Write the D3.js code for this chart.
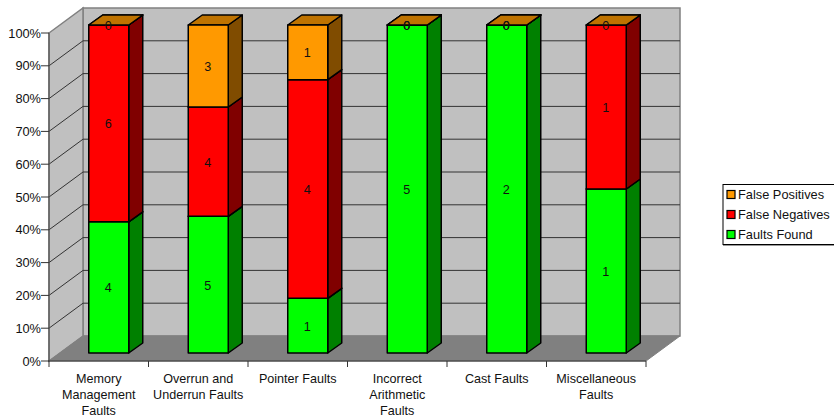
<!DOCTYPE html>
<html>
<head>
<meta charset="utf-8">
<script src="https://cdn.jsdelivr.net/npm/d3@7/dist/d3.min.js"></script>
<style>
html,body{margin:0;padding:0;background:#fff}
svg{display:block}
text{font-family:"Liberation Sans",Arial,sans-serif;fill:#111}
</style>
</head>
<body>
<svg id="chart" width="834" height="418"></svg>
<script>
const categories = [
  ["Memory","Management","Faults"],
  ["Overrun and","Underrun Faults"],
  ["Pointer Faults"],
  ["Incorrect","Arithmetic","Faults"],
  ["Cast Faults"],
  ["Miscellaneous","Faults"]
];
const faultsFound    = [4,5,1,5,2,1];
const falseNegatives = [6,4,4,0,0,1];
const falsePositives = [0,3,1,0,0,0];
const seriesNames = ["Faults Found","False Negatives","False Positives"];
const percentTicks = [0,.1,.2,.3,.4,.5,.6,.7,.8,.9,1];

const palette = {
  "Faults Found":    {front:"#00ff00", top:"#00bf00", side:"#008000"},
  "False Negatives": {front:"#ff0000", top:"#bf0000", side:"#800000"},
  "False Positives": {front:"#ff9900", top:"#bf7300", side:"#804c00"}
};

const svg = d3.select("#chart");

// Oblique projection: the wall sits behind the front plane by (wallX, wallY).
const wallX = 34, wallY = -25;
const barNear = {x:10, y:-8}, barFar = {x:24, y:-18};
const plotLeft = 49, plotRight = 646, plotTop = 33, plotBottom = 361;

const x = d3.scaleBand().domain(d3.range(categories.length)).range([plotLeft,plotRight]).paddingInner(0).paddingOuter(0);
const y = d3.scaleLinear().domain([0,1]).range([plotBottom,plotTop]);
const barW = 40;

const pts = a => a.map(p => p.join(",")).join(" ");

// Back wall, side wall, floor
svg.append("polygon").attr("points",pts([[plotLeft+wallX,plotTop+wallY],[plotRight+wallX,plotTop+wallY],[plotRight+wallX,plotBottom+wallY],[plotLeft+wallX,plotBottom+wallY]]))
  .attr("fill","#c0c0c0").attr("stroke","#808080").attr("stroke-width",1.5);
svg.append("polygon").attr("points",pts([[plotLeft,plotTop],[plotLeft+wallX,plotTop+wallY],[plotLeft+wallX,plotBottom+wallY],[plotLeft,plotBottom]]))
  .attr("fill","#c0c0c0").attr("stroke","#808080").attr("stroke-width",1.5);
svg.append("polygon").attr("points",pts([[plotLeft,plotBottom],[plotLeft+wallX,plotBottom+wallY],[plotRight+wallX,plotBottom+wallY],[plotRight,plotBottom]]))
  .attr("fill","#808080").attr("stroke","#808080").attr("stroke-width",1);

// Gridlines across both walls
const grid = svg.append("g").attr("fill","none").attr("stroke","#333").attr("stroke-width",1);
percentTicks.slice(1,-1).forEach(t => {
  grid.append("polyline").attr("points",pts([[plotLeft,y(t)],[plotLeft+wallX,y(t)+wallY],[plotRight+wallX,y(t)+wallY]]));
});

// Axes
const axisColor = "#333";
svg.append("line").attr("x1",plotLeft).attr("x2",plotLeft).attr("y1",plotTop).attr("y2",plotBottom).attr("stroke","#555").attr("stroke-width",1.2);
svg.append("line").attr("x1",plotLeft-1).attr("x2",plotRight).attr("y1",plotBottom).attr("y2",plotBottom).attr("stroke",axisColor).attr("stroke-width",1.2);

const yAxis = svg.append("g");
percentTicks.forEach(t => {
  yAxis.append("line").attr("x1",plotLeft-8).attr("x2",plotLeft).attr("y1",y(t)).attr("y2",y(t)).attr("stroke",axisColor);
  yAxis.append("text").attr("x",plotLeft-8).attr("y",y(t)+4.5).attr("text-anchor","end").attr("font-size",12.8).text(d3.format(".0%")(t));
});

const xAxis = svg.append("g");
d3.range(categories.length+1).forEach(i => {
  const px = i < categories.length ? x(i) : plotRight;
  xAxis.append("line").attr("x1",px).attr("x2",px).attr("y1",plotBottom).attr("y2",plotBottom+6).attr("stroke",axisColor);
});
categories.forEach((lines,i) => {
  const t = xAxis.append("text").attr("text-anchor","middle").attr("font-size",12.6);
  lines.forEach((l,j) => t.append("tspan").attr("x",x(i)+x.bandwidth()/2).attr("y",382.5+j*16.2).text(l));
});

// Stacked 100% columns
const rows = categories.map((c,i) => ({
  "Faults Found":faultsFound[i],"False Negatives":falseNegatives[i],"False Positives":falsePositives[i]
}));
const stacked = d3.stack().keys(seriesNames).offset(d3.stackOffsetExpand)(rows);

const bars = svg.append("g").attr("stroke","#000").attr("stroke-width",1.5).attr("stroke-linejoin","round");
const labels = svg.append("g");

categories.forEach((c,i) => {
  const x0 = x(i) + x.bandwidth()/2 - barW/2 + barNear.x;
  const x1 = x0 + barW;
  const dx = barFar.x - barNear.x, dy = barFar.y - barNear.y;
  stacked.forEach(s => {
    const col = palette[s.key];
    const yb = y(s[i][0]) + barNear.y, yt = y(s[i][1]) + barNear.y;
    bars.append("polygon").attr("points",pts([[x1,yb],[x1+dx,yb+dy],[x1+dx,yt+dy],[x1,yt]])).attr("fill",col.side);
    bars.append("polygon").attr("points",pts([[x0,yt],[x0+dx,yt+dy],[x1+dx,yt+dy],[x1,yt]])).attr("fill",col.top);
    bars.append("rect").attr("x",x0).attr("y",yt).attr("width",barW).attr("height",yb-yt).attr("fill",col.front);
    labels.append("text").attr("x",(x0+x1)/2-0.5).attr("y",(yb+yt)/2+5)
      .attr("text-anchor","middle").attr("font-size",12.6).text(s[i].data[s.key]);
  });
});

// Legend
const legend = svg.append("g");
legend.append("rect").attr("x",723).attr("y",184.5).attr("width",112).attr("height",60)
  .attr("fill","#fff").attr("stroke","#000").attr("stroke-width",1);
legend.append("line").attr("x1",723).attr("x2",834).attr("y1",245.5).attr("y2",245.5).attr("stroke","#999");
seriesNames.slice().reverse().forEach((name,k) => {
  const cy = 194.5 + k*20;
  legend.append("rect").attr("x",727).attr("y",cy-4).attr("width",8).attr("height",8)
    .attr("fill",palette[name].front).attr("stroke","#000").attr("stroke-width",1.2);
  legend.append("text").attr("x",738).attr("y",cy+4.5).attr("font-size",12.8).text(name);
});
</script>
</body>
</html>
